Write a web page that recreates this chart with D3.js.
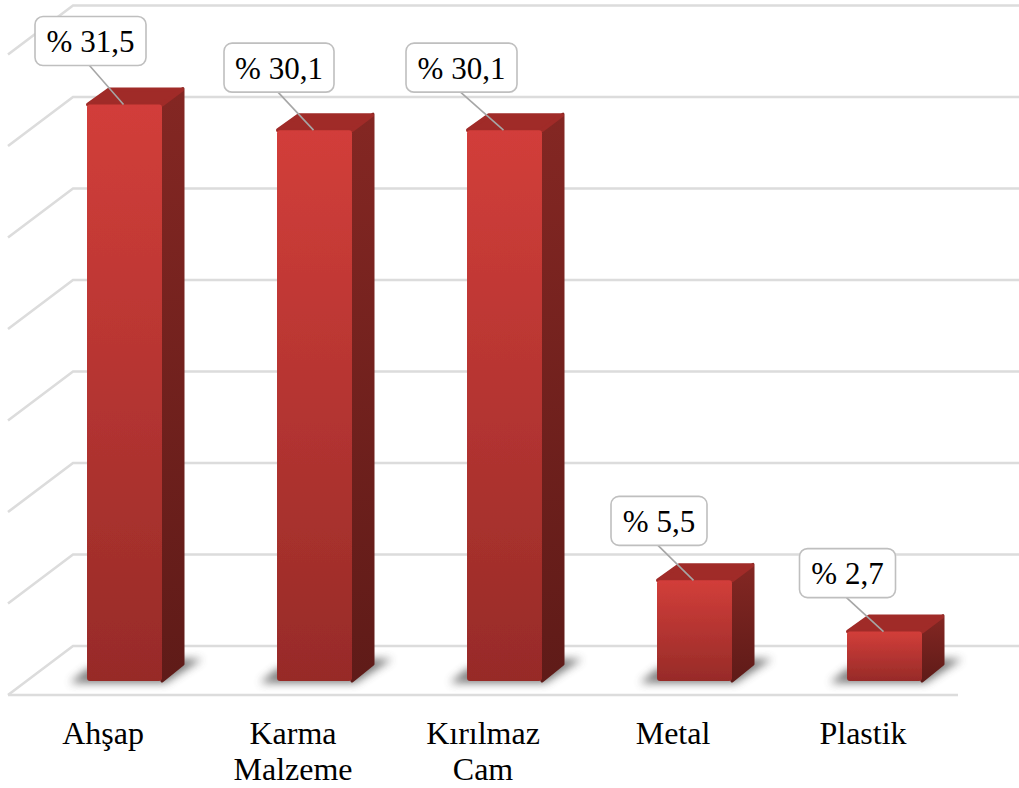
<!DOCTYPE html>
<html>
<head>
<meta charset="utf-8">
<script src="https://cdn.jsdelivr.net/npm/d3@7"></script>
<style>
    html, body { margin: 0; background: #fff; }
    text { font-family: "Liberation Serif", "Times New Roman", serif; fill: #000; }
</style>
</head>
<body>
<div id="chart"></div>
<script>
const width = 1019;
const height = 788;

const categories = ["Ahşap", "Karma Malzeme", "Kırılmaz Cam", "Metal", "Plastik"];
const values = [31.5, 30.1, 30.1, 5.5, 2.7];
const valueLabels = ["%\u00a031,5", "%\u00a030,1", "%\u00a030,1", "%\u00a05,5", "%\u00a02,7"];
const gridValues = [0, 5, 10, 15, 20, 25, 30, 35];

// Callout placement relative to the bar's front top edge
const calloutDx = [-34, -35.5, -43, -35.5, -37];
const calloutDy = [-39, -38, -38, -35, -34];
const calloutWidth = [111, 110, 111, 96, 96];

const floorLeft = 8;
const floorRight = 958;
const floorDepthX = 65;
const floorDepthY = 49;
const barDepthX = 22;
const barDepthY = 17;
const barWidth = 75;
const barShift = 21.5;
const calloutHeight = 49;

const x = d3.scaleBand().domain(categories).range([floorLeft, floorRight]);
const y = d3.scaleLinear().domain([0, 35]).range([681, 40.5]);

const svg = d3.select("#chart").append("svg")
    .attr("width", width)
    .attr("height", height)
    .style("display", "block");

const defs = svg.append("defs");

// Each bar carries the whole gradient over its own height
values.forEach((v, i) => {
    const g = defs.append("linearGradient")
        .attr("id", "frontBar" + i)
        .attr("x1", 0).attr("x2", 0).attr("y1", 0).attr("y2", 1);
    g.append("stop").attr("offset", 0).attr("stop-color", "#d23e3a");
    g.append("stop").attr("offset", 1).attr("stop-color", "#972b28");
    const s = defs.append("linearGradient")
        .attr("id", "sideBar" + i)
        .attr("gradientUnits", "objectBoundingBox")
        .attr("x1", 0).attr("x2", 0).attr("y1", 0).attr("y2", 1);
    s.append("stop").attr("offset", 0).attr("stop-color", "#842723");
    s.append("stop").attr("offset", 1).attr("stop-color", "#5f1b18");
});

defs.append("filter").attr("id", "soft")
    .attr("x", "-30%").attr("y", "-60%").attr("width", "160%").attr("height", "220%")
    .append("feGaussianBlur").attr("stdDeviation", 4);

defs.append("filter").attr("id", "edge")
    .attr("x", "-5%").attr("y", "-5%").attr("width", "110%").attr("height", "110%")
    .append("feGaussianBlur").attr("stdDeviation", 0.5);

// Back wall lines and the diagonal return to the front of the floor
const grid = svg.append("g")
    .attr("fill", "none")
    .attr("stroke", "#dcdcdc")
    .attr("stroke-width", 2.6);

grid.selectAll("path")
    .data(gridValues)
    .enter().append("path")
    .attr("d", d => {
        const back = y(d) - 35;
        return `M${floorLeft},${back + floorDepthY}L${floorLeft + floorDepthX},${back}L${width},${back}`;
    });

grid.append("line")
    .attr("x1", floorLeft)
    .attr("x2", floorRight)
    .attr("y1", y(0) + 14)
    .attr("y2", y(0) + 14);

const bars = svg.append("g")
    .selectAll("g")
    .data(categories)
    .enter().append("g");

const barLeft = d => x(d) + x.bandwidth() / 2 + barShift - barWidth / 2;

bars.append("path")
    .attr("d", d => {
        const l = barLeft(d), r = l + barWidth, b = y(0);
        return `M${l - 17},${b + 2}L${r + 3},${b + 2}L${r + 40},${b - 22}L${r + 8},${b - 22}L${l},${b - 12}Z`;
    })
    .attr("fill", "#4a4a4a")
    .attr("opacity", 0.72)
    .attr("filter", "url(#soft)");

// Side face
bars.append("path")
    .attr("d", (d, i) => {
        const l = barLeft(d), r = l + barWidth, t = y(values[i]), b = y(0);
        return `M${r},${t}L${r + barDepthX - 1},${t - barDepthY + 1}L${r + barDepthX - 1},${b - barDepthY}L${r},${b}Z`;
    })
    .attr("fill", (d, i) => `url(#sideBar${i})`)
    .attr("stroke", (d, i) => `url(#sideBar${i})`)
    .attr("stroke-width", 3)
    .attr("stroke-linejoin", "round");

// Top face
bars.append("path")
    .attr("d", (d, i) => {
        const l = barLeft(d) + 1, r = barLeft(d) + barWidth, t = y(values[i]);
        return `M${l},${t}L${l + barDepthX - 1},${t - barDepthY + 2}L${r + barDepthX - 2},${t - barDepthY + 2}L${r},${t}Z`;
    })
    .attr("fill", "#a02b28")
    .attr("stroke", "#a02b28")
    .attr("stroke-width", 4)
    .attr("stroke-linejoin", "round");

// Front face
bars.append("rect")
    .attr("x", d => barLeft(d))
    .attr("y", (d, i) => y(values[i]))
    .attr("width", barWidth)
    .attr("height", (d, i) => y(0) - y(values[i]))
    .attr("rx", 3)
    .attr("fill", (d, i) => `url(#frontBar${i})`)
    .attr("filter", "url(#edge)");

// Callouts with leader lines into the top face
const callouts = svg.append("g")
    .selectAll("g")
    .data(categories)
    .enter().append("g")
    .attr("transform", (d, i) => {
        const cx = barLeft(d) + barWidth / 2 + calloutDx[i];
        const bottom = y(values[i]) + calloutDy[i];
        return `translate(${cx},${bottom})`;
    });

callouts.append("line")
    .attr("x1", -1)
    .attr("y1", 0)
    .attr("x2", (d, i) => -calloutDx[i] - 1)
    .attr("y2", (d, i) => -calloutDy[i])
    .attr("stroke", "#a6a6a6")
    .attr("stroke-width", 1.6);

callouts.append("rect")
    .attr("x", (d, i) => -calloutWidth[i] / 2)
    .attr("y", -calloutHeight)
    .attr("width", (d, i) => calloutWidth[i])
    .attr("height", calloutHeight)
    .attr("rx", 8)
    .attr("fill", "#fff")
    .attr("stroke", "#bfbfbf")
    .attr("stroke-width", 1.6);

callouts.append("text")
    .attr("text-anchor", "middle")
    .attr("y", -calloutHeight / 2 + 11)
    .style("font-size", "31px")
    .text((d, i) => valueLabels[i]);

// Category axis, long names broken over two lines
const axis = svg.append("g")
    .attr("transform", `translate(0,${y(0) + 14})`)
    .call(d3.axisBottom(x).tickSize(0).tickPadding(0));

axis.select(".domain").remove();

axis.selectAll("text")
    .attr("dy", 0)
    .style("font-size", "32px")
    .style("font-family", "'Liberation Serif', serif")
    .each(function (d) {
        const el = d3.select(this).text(null);
        d.split(" ").forEach((word, i) => {
            el.append("tspan")
                .attr("x", 0)
                .attr("y", 49 + i * 36)
                .text(word);
        });
    });
</script>
</body>
</html>
